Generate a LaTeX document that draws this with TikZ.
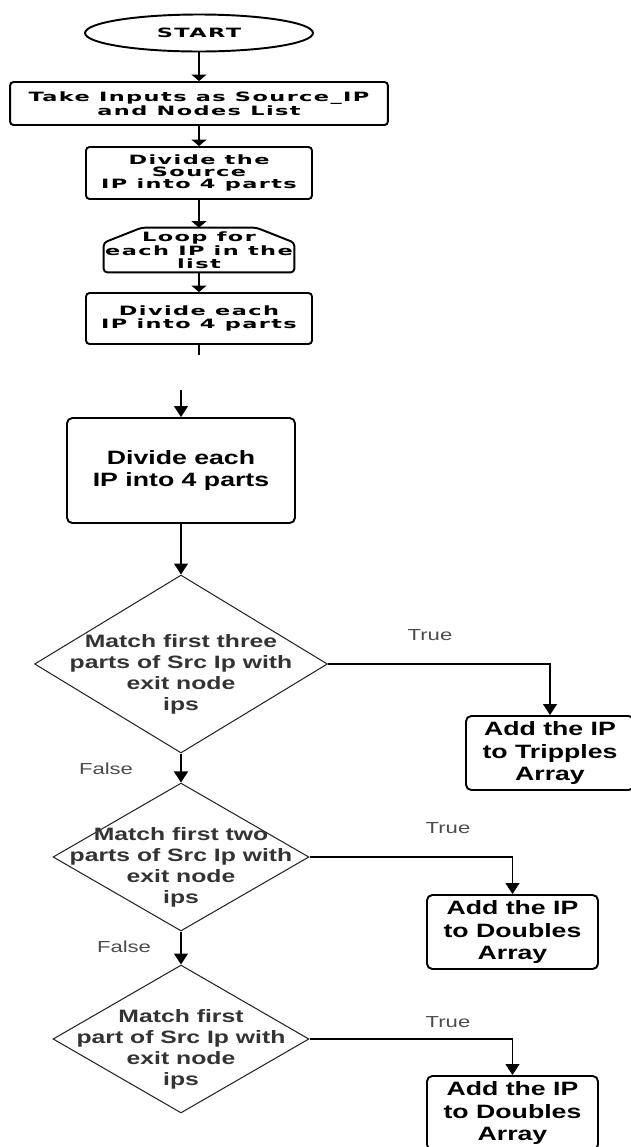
\documentclass[tikz,border=0pt]{standalone}
\usepackage{fontspec}
\setmainfont{Liberation Sans}
\newfontfamily\upfont[FakeStretch=1.75,LetterSpace=11]{DejaVu Sans}
\newfontfamily\lowfont[FakeStretch=1.38]{Liberation Sans}
\usepackage{tikz}
\usetikzlibrary{positioning,arrows.meta,shapes.geometric,calc}

\begin{document}
\begin{tikzpicture}[x=0.02cm, y=-0.02cm,
    upbox/.style={draw, line width=1.1pt, rounded corners=2pt, align=center, inner sep=0pt,
        font=\upfont\bfseries\fontsize{7.3}{7}\selectfont},
    lowbox/.style={draw, line width=1.1pt, rounded corners=3pt, align=center, inner sep=0pt,
        font=\lowfont\bfseries\fontsize{11}{12.9}\selectfont},
    decision/.style={draw=black!85, line width=0.6pt, diamond, inner sep=0pt},
    dtext/.style={align=center, inner sep=0pt, text=black!80,
        font=\lowfont\bfseries\fontsize{10.2}{11.9}\selectfont},
    lbl/.style={inner sep=0pt, text=black!70, font=\lowfont\fontsize{9.1}{11}\selectfont},
    uparrow/.style={-{Triangle[width=0.3cm, length=0.13cm]}, line width=0.7pt},
    arrow/.style={-{Triangle[width=0.28cm, length=0.22cm]}, line width=0.7pt}]

    \useasboundingbox (0,0) rectangle (630,1147);

    % Upper part: input and splitting of the source address
    \node[draw, ellipse, line width=1.1pt, inner sep=0pt, minimum width=4.56cm, minimum height=0.74cm,
        font=\upfont\bfseries\fontsize{7.3}{7}\selectfont] (start) at (199,33) {START};
    \node[upbox, minimum width=7.56cm, minimum height=0.86cm] (inp) at (199,103.5) {Take Inputs as Source\_IP\\and Nodes List};
    \node[upbox, minimum width=4.52cm, minimum height=1.04cm] (divsrc) at (199,173) {Divide the\\Source\\IP into 4 parts};
    \node[align=center, inner sep=0pt, minimum width=3.8cm, minimum height=0.88cm,
        font=\upfont\bfseries\fontsize{7.3}{7}\selectfont] (loop) at (199,250) {Loop for\\each IP in the\\list};
    \draw[line width=1.1pt, rounded corners=2pt] (loop.south west) -- ([yshift=-0.3cm]loop.north west)
        -- ([xshift=0.76cm]loop.north west) -- ([xshift=-0.76cm]loop.north east)
        -- ([yshift=-0.3cm]loop.north east) -- (loop.south east) -- cycle;
    \node[upbox, minimum width=4.52cm, minimum height=1.02cm] (divip) at (199,318.5) {Divide each\\IP into 4 parts};
    \coordinate (cutA) at (199,355);

    % Lower part: matching against the exit nodes
    \coordinate (cutB) at (181,390);
    \node[lowbox, minimum width=4.56cm, minimum height=2.1cm] (divbig) at (181,470.5) {Divide each\\IP into 4 parts};

    \node[decision, minimum width=5.86cm, minimum height=3.56cm] (three) at (181,664) {};
    \node[dtext] (threetxt) at ([yshift=-0.21cm]three.center) {Match first three\\parts of Src Ip with\\exit node\\ips};
    \node[decision, minimum width=5.12cm, minimum height=2.96cm] (two) at (181,857) {};
    \node[dtext] (twotxt) at ([yshift=-0.21cm]two.center) {Match first two\\parts of Src Ip with\\exit node\\ips};
    \node[decision, minimum width=5.12cm, minimum height=2.96cm] (one) at (181,1039) {};
    \node[dtext] (onetxt) at ([yshift=-0.2cm]one.center) {Match first\\part of Src Ip with\\exit node\\ips};

    \node[lowbox, minimum width=3.36cm, minimum height=1.48cm] (triples) at (550,753) {Add the IP\\to Tripples\\Array};
    \node[lowbox, minimum width=3.42cm, minimum height=1.48cm] (doublesA) at (512.5,932) {Add the IP\\to Doubles\\Array};
    \node[lowbox, minimum width=3.42cm, minimum height=1.48cm] (doublesB) at (512.5,1113) {Add the IP\\to Doubles\\Array};

    \node[lbl] (trueA) at (430,635) {True};
    \node[lbl] (falseA) at (106,769) {False};
    \node[lbl] (trueB) at (448,828) {True};
    \node[lbl] (falseB) at (124,947) {False};
    \node[lbl] (trueC) at (448,1022) {True};

    % Connectors
    \draw[uparrow] (start) -- (inp);
    \draw[uparrow] (inp) -- (divsrc);
    \draw[uparrow] (divsrc) -- (loop);
    \draw[uparrow] (loop) -- (divip);
    \draw[line width=0.7pt] (divip) -- (cutA);
    \draw[arrow] (cutB) -- (divbig);
    \draw[arrow] (divbig) -- (three);
    \draw[arrow] (three.east) -| (triples.north);
    \draw[arrow] (three) -- (two);
    \draw[arrow] (two.east) -| (doublesA.north);
    \draw[arrow] (two) -- (one);
    \draw[arrow] (one.east) -| (doublesB.north);
\end{tikzpicture}
\end{document}
